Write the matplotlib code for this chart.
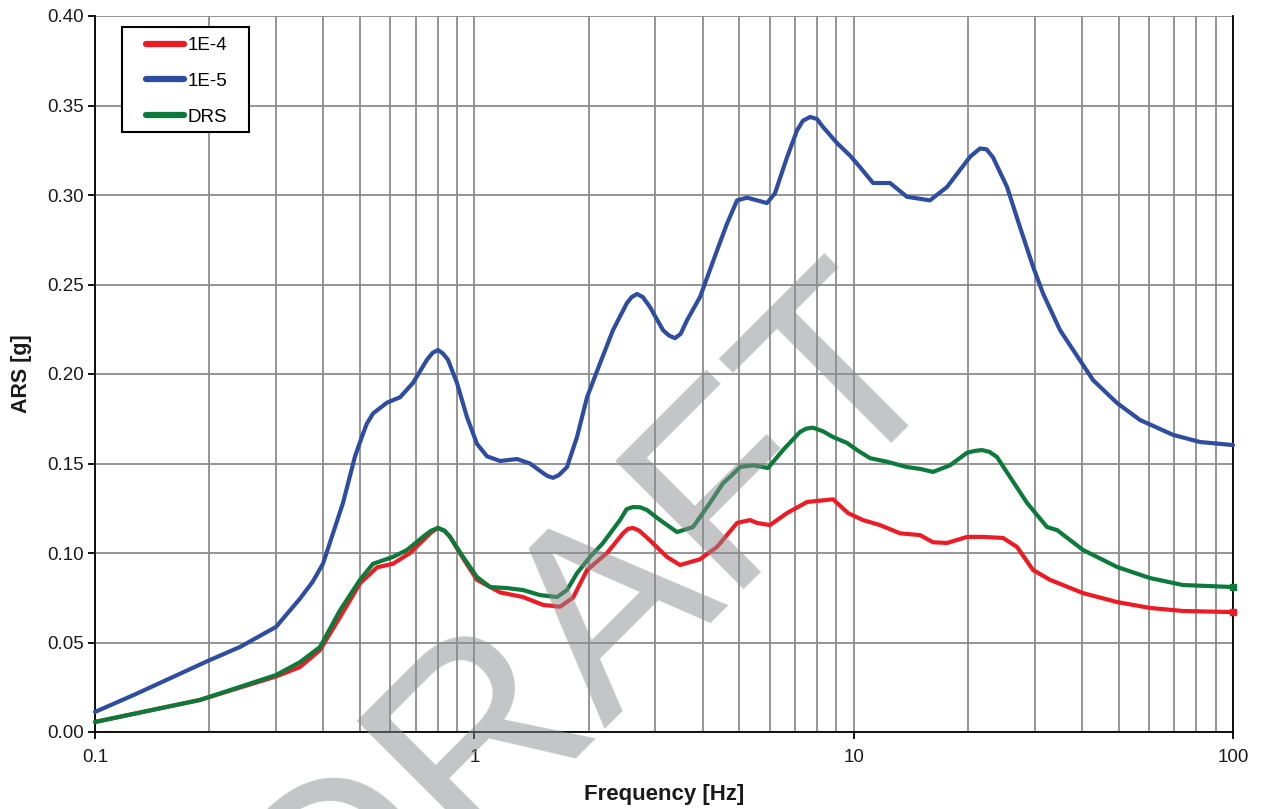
import numpy as np
import matplotlib
matplotlib.use("Agg")
import matplotlib.pyplot as plt
from matplotlib.patches import Rectangle
from matplotlib.ticker import FormatStrFormatter, LogLocator, NullFormatter

plt.rcParams['font.family'] = ['Liberation Sans', 'DejaVu Sans']

# ---------------- data ----------------
freq_1e5 = [0.1, 0.1275, 0.1577, 0.1998, 0.2411, 0.300, 0.347, 0.375, 0.399, 0.4506,
            0.4847, 0.5056, 0.52, 0.5408, 0.5886, 0.637, 0.689, 0.7504, 0.776, 0.802,
            0.826, 0.852, 0.900, 0.956, 1.016, 1.080, 1.169, 1.296, 1.402, 1.517,
            1.56, 1.612, 1.67, 1.755, 1.866, 1.982, 2.145, 2.320, 2.526, 2.60,
            2.685, 2.78, 2.905, 3.143, 3.26, 3.381, 3.50, 3.636, 3.935, 4.363,
            4.636, 4.927, 5.236, 5.563, 5.909, 6.203, 6.672, 7.088, 7.35, 7.673,
            8.0, 8.302, 9.040, 9.782, 10.39, 11.25, 12.47, 13.82, 15.89, 17.63,
            19.07, 20.3, 21.53, 22.4, 23.30, 25.37, 27.45, 29.71, 31.56, 35.0,
            42.76, 49.46, 56.88, 69.49, 81.85, 100.0]
ars_1e5 = [0.0112, 0.021, 0.030, 0.040, 0.0475, 0.0587, 0.0745, 0.084, 0.094, 0.128,
           0.154, 0.165, 0.172, 0.178, 0.184, 0.187, 0.195, 0.208, 0.2118, 0.2134,
           0.2115, 0.208, 0.195, 0.176, 0.161, 0.154, 0.1514, 0.1525, 0.150, 0.1447,
           0.1430, 0.142, 0.1435, 0.148, 0.165, 0.187, 0.206, 0.2245, 0.2397, 0.2430,
           0.2447, 0.2430, 0.2374, 0.2245, 0.2215, 0.220, 0.2225, 0.230, 0.243, 0.269,
           0.284, 0.297, 0.2985, 0.297, 0.2955, 0.301, 0.321, 0.336, 0.3415, 0.3436,
           0.3425, 0.338, 0.329, 0.322, 0.3156, 0.3067, 0.3067, 0.299, 0.297, 0.3045,
           0.314, 0.3215, 0.326, 0.3255, 0.321, 0.3045, 0.282, 0.260, 0.245, 0.2245,
           0.1966, 0.1838, 0.1743, 0.166, 0.162, 0.1603]

freq_drs = [0.1, 0.1891, 0.300, 0.347, 0.392, 0.4425, 0.4995, 0.5408, 0.6105, 0.6645,
            0.732, 0.77, 0.802, 0.835, 0.863, 0.934, 1.016, 1.100, 1.220, 1.344,
            1.490, 1.652, 1.755, 1.866, 2.018, 2.184, 2.421, 2.52, 2.620, 2.74,
            2.852, 3.087, 3.422, 3.771, 4.181, 4.525, 4.721, 5.018, 5.429, 5.945,
            6.511, 7.219, 7.5, 7.814, 8.3, 8.823, 9.605, 10.21, 11.04, 12.24,
            13.82, 14.96, 16.19, 17.95, 19.90, 20.8, 21.79, 22.8, 23.87, 25.83,
            28.64, 32.34, 34.37, 40.24, 49.46, 60.43, 73.83, 100.0]
ars_drs = [0.0056, 0.0179, 0.0318, 0.039, 0.0475, 0.068, 0.085, 0.094, 0.0978, 0.1017,
           0.109, 0.1125, 0.114, 0.1125, 0.109, 0.0978, 0.0866, 0.081, 0.0804, 0.0793,
           0.0765, 0.0754, 0.0793, 0.0888, 0.0978, 0.1056, 0.1184, 0.1245, 0.1257, 0.1255,
           0.124, 0.1184, 0.1117, 0.1145, 0.128, 0.139, 0.1425, 0.148, 0.149, 0.1475,
           0.1575, 0.1676, 0.1695, 0.170, 0.168, 0.1648, 0.1615, 0.1575, 0.153, 0.151,
           0.148, 0.147, 0.1453, 0.149, 0.156, 0.157, 0.1575, 0.1565, 0.1536, 0.1425,
           0.128, 0.1145, 0.1128, 0.1017, 0.0922, 0.086, 0.0821, 0.081]

freq_1e4 = [0.1, 0.1891, 0.300, 0.347, 0.392, 0.4425, 0.4995, 0.554, 0.6105, 0.6768,
            0.77, 0.802, 0.835, 0.863, 0.934, 1.016, 1.169, 1.344, 1.517, 1.682,
            1.820, 1.982, 2.238, 2.466, 2.54, 2.620, 2.72, 2.905, 3.220, 3.485,
            3.935, 4.363, 4.927, 5.331, 5.563, 6.018, 6.672, 7.534, 8.823, 9.665,
            10.58, 11.73, 13.25, 14.96, 16.19, 17.63, 19.90, 21.93, 24.76, 26.95,
            29.71, 32.94, 40.24, 49.46, 60.43, 73.83, 100.0]
ars_1e4 = [0.0056, 0.0179, 0.031, 0.0363, 0.0458, 0.0642, 0.083, 0.092, 0.094, 0.100,
           0.1115, 0.114, 0.1122, 0.109, 0.097, 0.085, 0.078, 0.0754, 0.071, 0.070,
           0.075, 0.0905, 0.100, 0.111, 0.1135, 0.114, 0.1125, 0.107, 0.0978, 0.0933,
           0.0965, 0.1034, 0.1168, 0.1184, 0.1168, 0.1156, 0.1223, 0.1285, 0.130, 0.1223,
           0.1184, 0.1156, 0.111, 0.110, 0.106, 0.1056, 0.109, 0.109, 0.1084, 0.1034,
           0.0905, 0.085, 0.0776, 0.0726, 0.0693, 0.0676, 0.067]

series_labels = ['1E-4', '1E-5', 'DRS']
series_colors = ['#ed1c24', '#2f4da0', '#0b7a3a']
x_tick_labels = ['0.1', '1', '10', '100']
x_ticks = [0.1, 1, 10, 100]
y_ticks = [0.00, 0.05, 0.10, 0.15, 0.20, 0.25, 0.30, 0.35, 0.40]

# ---------------- figure ----------------
W, H = 1261, 809
fig = plt.figure(figsize=(W / 100, H / 100), dpi=100)
L, R, T, B = 95, 1233, 16, 732
ax = fig.add_axes([L / W, 1 - B / H, (R - L) / W, (B - T) / H])

ax.set_xscale('log')
ax.set_xlim(0.1, 100)
ax.set_ylim(0, 0.40)
ax.set_yticks(y_ticks)
ax.yaxis.set_major_formatter(FormatStrFormatter('%.2f'))
ax.set_xticks(x_ticks)
ax.set_xticklabels(x_tick_labels)
ax.xaxis.set_minor_locator(LogLocator(base=10, subs=range(2, 10)))
ax.xaxis.set_minor_formatter(NullFormatter())
ax.tick_params(axis='x', which='minor', length=0)
ax.tick_params(axis='both', which='major', direction='out', length=5, width=1.3,
               labelsize=13.5, labelcolor='#1a1a1a')
ax.tick_params(axis='x', which='major', pad=7)
ax.tick_params(axis='y', which='major', pad=3)

ax.grid(True, which='both', axis='x', color='#8c8c8c', lw=1.3)
ax.grid(True, which='major', axis='y', color='#8c8c8c', lw=1.3)
ax.set_axisbelow(True)

ax.spines['top'].set_visible(False)
for s in ['left', 'bottom', 'right']:
    ax.spines[s].set_color('black')
    ax.spines[s].set_linewidth(1.3)

data = [(freq_1e4, ars_1e4), (freq_1e5, ars_1e5), (freq_drs, ars_drs)]
handles = []
for (f, v), lab, col in zip(data, series_labels, series_colors):
    h, = ax.plot(f, v, color=col, lw=3.0, label=lab, solid_joinstyle='round',
                 solid_capstyle='round', zorder=3, clip_on=False)
    handles.append(h)
# small end markers as in the reference
ax.plot(freq_1e4[-1:], ars_1e4[-1:], 's', color=series_colors[0], ms=4, zorder=4, clip_on=False)
ax.plot(freq_drs[-1:], ars_drs[-1:], 's', color=series_colors[2], ms=4, zorder=4, clip_on=False)

ax.set_xlabel('Frequency [Hz]', fontsize=16, fontweight='bold', color='#1a1a1a')
ax.set_ylabel('ARS [g]', fontsize=15.5, fontweight='bold', color='#1a1a1a')
ax.xaxis.set_label_coords(0.5, (B - 784) / (B - T))
ax.yaxis.set_label_coords((32 - L) / (R - L), 0.5)

# legend box drawn manually
ax_w, ax_h = R - L, B - T
rect = Rectangle(((122 - L) / ax_w, (B - 132) / ax_h), (249 - 122) / ax_w, (132 - 27) / ax_h,
                 transform=ax.transAxes, facecolor='white', edgecolor='black', lw=1.5,
                 zorder=5)
ax.add_patch(rect)
leg = ax.legend(handles=handles, loc='upper left',
                bbox_to_anchor=((146 - L) / ax_w, (B - 37) / ax_h),
                frameon=False, borderpad=0, borderaxespad=0, fontsize=13.5,
                handlelength=2.0, handletextpad=0.2, labelspacing=0.99)
leg.set_zorder(6)
for lh in leg.get_lines():
    lh.set_linewidth(4.5)
    lh.set_solid_capstyle('round')

# DRAFT watermark
fig.text(640 / W, 1 - 672 / H, 'DRAFT', fontsize=190, rotation=45, rotation_mode='anchor',
         ha='center', va='baseline', color='#8a8c90', alpha=0.5, zorder=10,
         family=['Liberation Sans', 'DejaVu Sans'])

fig.savefig('out.png', dpi=100)
